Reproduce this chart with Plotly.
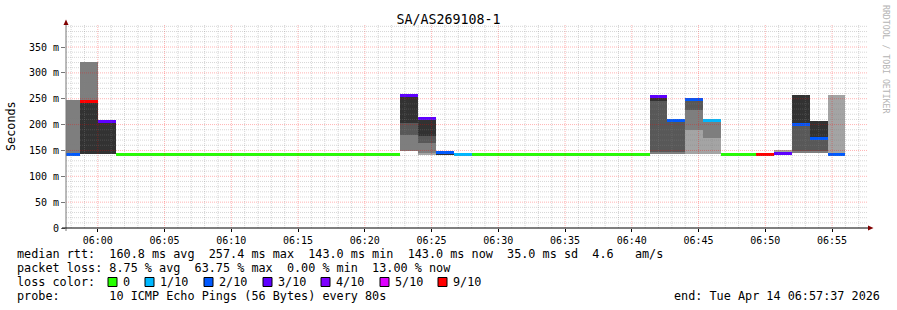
import plotly.graph_objects as go

# ---------------- data ----------------
DAY = "2026-04-14 "
RANGE_START = "05:57:37"
RANGE_END = "06:57:37"

# start of each 80 s step
bin_start = [
    "05:57:20", "05:58:40", "06:00:00", "06:01:20", "06:02:40", "06:04:00",
    "06:05:20", "06:06:40", "06:08:00", "06:09:20", "06:10:40", "06:12:00",
    "06:13:20", "06:14:40", "06:16:00", "06:17:20", "06:18:40", "06:20:00",
    "06:21:20", "06:22:40", "06:24:00", "06:25:20", "06:26:40", "06:28:00",
    "06:29:20", "06:30:40", "06:32:00", "06:33:20", "06:34:40", "06:36:00",
    "06:37:20", "06:38:40", "06:40:00", "06:41:20", "06:42:40", "06:44:00",
    "06:45:20", "06:46:40", "06:48:00", "06:49:20", "06:50:40", "06:52:00",
    "06:53:20", "06:54:40", "06:56:00",
]

# median rtt (ms) per step
median_ms = [
    143, 245, 206, 143, 143, 143,
    143, 143, 143, 143, 143, 143,
    143, 143, 143, 143, 143, 143,
    143, 257, 211, 145.5, 143, 143,
    143, 143, 143, 143, 143, 143,
    143, 143, 143, 255, 208, 248,
    208, 143, 143, 143, 143.5, 200,
    174, 143, None,
]

# lost pings out of 10 per step
loss_tenths = [
    2, 9, 3, 0, 0, 0,
    0, 0, 0, 0, 0, 0,
    0, 0, 0, 0, 0, 0,
    0, 3, 3, 2, 1, 0,
    0, 0, 0, 0, 0, 0,
    0, 0, 0, 3, 2, 2,
    1, 0, 0, 9, 3, 2,
    2, 2, None,
]

# smoke bands (low ms, high ms) by step, lightest to darkest
smoke_band2 = {
    "06:24:00": (141, 211), "06:44:00": (144, 248), "06:45:20": (144, 207),
    "06:50:40": (143, 151), "06:54:40": (143, 257),
}
smoke_band3 = {
    "05:57:20": (145, 247), "05:58:40": (143, 322), "06:22:40": (148, 257),
    "06:24:00": (145, 211), "06:41:20": (143, 255), "06:42:40": (143, 207),
    "06:44:00": (190, 248), "06:45:20": (174, 207), "06:52:00": (145, 257),
    "06:53:20": (145, 206),
}
smoke_band4 = {
    "06:22:40": (180, 257), "06:24:00": (164, 211), "06:41:20": (147, 255),
    "06:42:40": (147, 207), "06:44:00": (228, 248), "06:52:00": (148, 257),
    "06:53:20": (148, 206),
}
smoke_band5 = {
    "05:58:40": (143, 245), "06:00:00": (143, 205), "06:22:40": (203, 257),
    "06:24:00": (177, 211), "06:25:20": (142, 144.5), "06:41:20": (246, 255),
    "06:52:00": (202, 257), "06:53:20": (176, 206),
}

loss_labels = ["0", "1/10", "2/10", "3/10", "4/10", "5/10", "9/10"]
loss_keys = [0, 1, 2, 3, 4, 5, 9]
loss_colors = ["#26ff00", "#00b8ff", "#0059ff", "#5e00ff", "#7e00ff", "#dd00ff", "#ff0000"]

y_tick_vals = [0, 50, 100, 150, 200, 250, 300, 350]
y_tick_text = ["0", "50 m", "100 m", "150 m", "200 m", "250 m", "300 m", "350 m"]

title_text = "SA/AS269108-1"
line_median = "median rtt:  160.8 ms avg  257.4 ms max  143.0 ms min  143.0 ms now  35.0 ms sd  4.6   am/s"
line_loss = "packet loss: 8.75 % avg  63.75 % max  0.00 % min  13.00 % now"
line_color = "loss color:"
line_probe = "probe:       10 ICMP Echo Pings (56 Bytes) every 80s"
line_end = "end: Tue Apr 14 06:57:37 2026"
watermark = "RRDTOOL / TOBI OETIKER"

# ---------------- layout constants ----------------
W, H = 897, 310
L, R, T, B = 66, 30, 25, 82
PW, PH = W - L - R, H - T - B
Y_MAX = 392.6
STEP_MS = 80000
MED_HALF = 2.9
MONO = "DejaVu Sans Mono"
SHADES = ["#a4a4a4", "#7e7e7e", "#585858", "#323232"]
GRID_MAJOR = "rgba(255,0,0,0.30)"
GRID_MINOR = "rgba(130,130,130,0.32)"


def px(xp):
    return (xp - L) / PW


def py(yp):
    return (H - B - yp) / PH


def nb(s):
    return s.replace(" ", "\u00a0")


fig = go.Figure()

for band, shade in zip([smoke_band2, smoke_band3, smoke_band4, smoke_band5], SHADES):
    keys = list(band.keys())
    fig.add_trace(go.Bar(
        x=[DAY + k for k in keys],
        base=[band[k][0] for k in keys],
        y=[band[k][1] - band[k][0] for k in keys],
        width=STEP_MS, offset=0,
        marker=dict(color=shade, line=dict(width=0)),
        hoverinfo="skip", showlegend=False,
    ))

cmap = dict(zip(loss_keys, loss_colors))
mx, mb, my, mc = [], [], [], []
for t, m, l in zip(bin_start, median_ms, loss_tenths):
    if m is None:
        continue
    key = max(k for k in loss_keys if k <= l)
    mx.append(DAY + t)
    mb.append(m - MED_HALF)
    my.append(2 * MED_HALF)
    mc.append(cmap[key])
fig.add_trace(go.Bar(
    x=mx, base=mb, y=my, width=STEP_MS, offset=0,
    marker=dict(color=mc, line=dict(width=0)),
    hoverinfo="skip", showlegend=False,
))

shapes = []
# grid drawn above the data, as rrdtool does
minute_ticks = ["05:%02d:00" % m for m in range(58, 60)] + ["06:%02d:00" % m for m in range(0, 58)]
for tk in minute_ticks:
    major = int(tk[3:5]) % 5 == 0
    shapes.append(dict(
        type="line", xref="x", yref="paper", x0=DAY + tk, x1=DAY + tk, y0=0, y1=1,
        line=dict(color=GRID_MAJOR if major else GRID_MINOR, width=1, dash="1px,1px"),
        layer="above",
    ))
for v in range(10, 400, 10):
    major = v % 50 == 0
    shapes.append(dict(
        type="line", xref="paper", yref="y", x0=0, x1=1, y0=v, y1=v,
        line=dict(color=GRID_MAJOR if major else GRID_MINOR, width=1, dash="1px,1px"),
        layer="above",
    ))
# axis lines
shapes.append(dict(type="line", xref="paper", yref="paper", x0=px(L), x1=px(L),
                   y0=py(231), y1=py(23), line=dict(color="#777777", width=1), layer="above"))
shapes.append(dict(type="line", xref="paper", yref="paper", x0=px(62), x1=px(869),
                   y0=py(228), y1=py(228), line=dict(color="#000000", width=1), layer="above"))
# arrows
shapes.append(dict(type="path", xref="paper", yref="paper",
                   path="M %f %f L %f %f L %f %f Z" % (px(63.5), py(25), px(68.5), py(25), px(66), py(19.5)),
                   fillcolor="#800000", line=dict(width=0), layer="above"))
shapes.append(dict(type="path", xref="paper", yref="paper",
                   path="M %f %f L %f %f L %f %f Z" % (px(868), py(225.5), px(868), py(230.5), px(873.5), py(228)),
                   fillcolor="#800000", line=dict(width=0), layer="above"))
# loss colour boxes
box_left = [108, 145, 204, 263, 321, 380, 438]
for bx, col in zip(box_left, loss_colors):
    shapes.append(dict(type="rect", xref="paper", yref="paper",
                       x0=px(bx), x1=px(bx + 9), y0=py(286.5), y1=py(277.5),
                       fillcolor=col, line=dict(color="#000000", width=1)))

ann = []
tfont = dict(family=MONO, size=11.8, color="#000000")
for txt, yy in [(line_median, 254), (line_loss, 268), (line_color, 282), (line_probe, 296)]:
    ann.append(dict(text=nb(txt), xref="paper", yref="paper", x=px(15), y=py(yy),
                    xanchor="left", yanchor="middle", showarrow=False, font=tfont))
for bx, lab in zip(box_left, loss_labels):
    ann.append(dict(text=nb(lab), xref="paper", yref="paper", x=px(bx + 13), y=py(282),
                    xanchor="left", yanchor="middle", showarrow=False, font=tfont))
ann.append(dict(text=nb(line_end), xref="paper", yref="paper", x=px(882), y=py(296),
                xanchor="right", yanchor="middle", showarrow=False, font=tfont))
ann.append(dict(text="Seconds", xref="paper", yref="paper", x=px(11), y=py(126),
                xanchor="center", yanchor="middle", textangle=-90, showarrow=False, font=tfont))
ann.append(dict(text=nb(watermark), xref="paper", yref="paper", x=px(886), y=py(59),
                xanchor="center", yanchor="middle", textangle=90, showarrow=False,
                font=dict(family=MONO, size=8.2, color="#b4b4b4")))

fig.update_layout(
    width=W, height=H,
    margin=dict(l=L, r=R, t=T, b=B),
    paper_bgcolor="#ffffff", plot_bgcolor="#ffffff",
    barmode="overlay", bargap=0,
    showlegend=False,
    title=dict(text=title_text, x=0.5, xref="container", xanchor="center",
               y=1 - 19 / H, yref="container", yanchor="middle",
               font=dict(family=MONO, size=13.3, color="#000000")),
    xaxis=dict(
        type="date", range=[DAY + RANGE_START, DAY + RANGE_END],
        tickformat="%H:%M", dtick=300000, tick0=DAY + "06:00:00",
        showgrid=False, zeroline=False, showline=False,
        ticks="outside", ticklen=3, tickcolor="#000000",
        tickfont=dict(family=MONO, size=10, color="#000000"),
        fixedrange=True,
    ),
    yaxis=dict(
        range=[0, Y_MAX], tickvals=y_tick_vals, ticktext=y_tick_text,
        showgrid=False, zeroline=False, showline=False,
        ticks="outside", ticklen=4, tickcolor="#777777",
        tickfont=dict(family=MONO, size=10, color="#000000"),
        fixedrange=True,
    ),
    shapes=shapes,
    annotations=ann,
)

fig.write_html("out.html", config=dict(displayModeBar=False))
